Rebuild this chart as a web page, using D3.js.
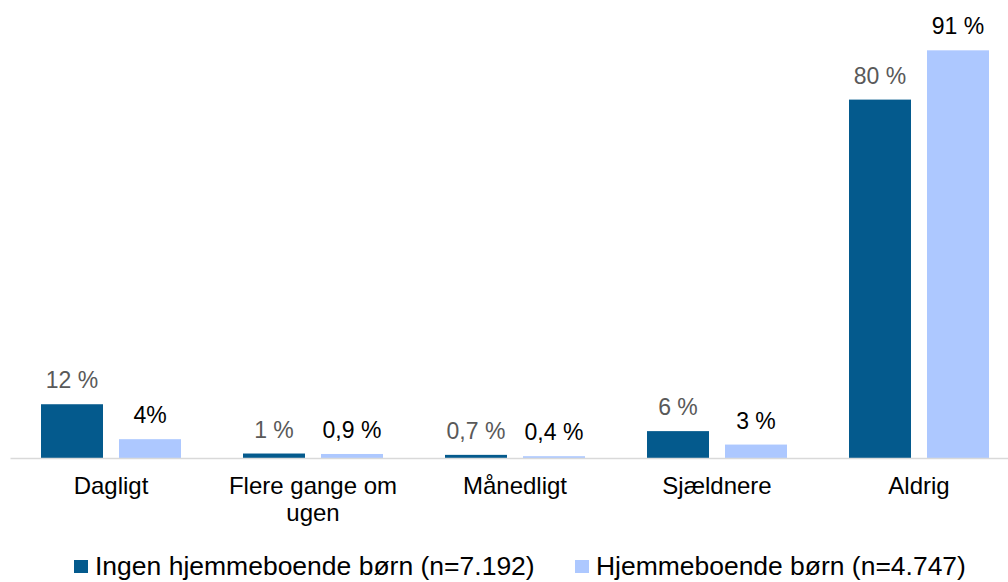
<!DOCTYPE html>
<html>
<head>
<meta charset="utf-8">
<script src="https://cdn.jsdelivr.net/npm/d3@7"></script>
<style>
  html, body { margin: 0; padding: 0; background: #fff; }
  svg { display: block; font-family: "Liberation Sans", Arial, sans-serif; }
</style>
</head>
<body>
<svg id="chart" width="1008" height="582"></svg>
<script>
const categories = ["Dagligt", "Flere gange om ugen", "Månedligt", "Sjældnere", "Aldrig"];
const categoryLines = [["Dagligt"], ["Flere gange om", "ugen"], ["Månedligt"], ["Sjældnere"], ["Aldrig"]];
const seriesNames = ["Ingen hjemmeboende børn (n=7.192)", "Hjemmeboende børn (n=4.747)"];
const ingenValues = [12, 1, 0.7, 6, 80];
const hjemmeValues = [4.2, 0.9, 0.4, 3, 91];
const ingenLabels = ["12 %", "1 %", "0,7 %", "6 %", "80 %"];
const hjemmeLabels = ["4%", "0,9 %", "0,4 %", "3 %", "91 %"];
const colors = ["#045A8D", "#ADC8FF"];
const labelColors = ["#595959", "#000000"];

const svg = d3.select("#chart");
const baseY = 458;

const x = d3.scaleBand().domain(categories).range([10, 1020]).paddingInner(0).paddingOuter(0);
const inner = d3.scaleBand().domain([0, 1]).range([31, 171]).paddingInner(16 / 78).paddingOuter(0);
const y = d3.scaleLinear().domain([0, 100]).range([baseY, 10]);

const series = [
  { values: ingenValues, labels: ingenLabels },
  { values: hjemmeValues, labels: hjemmeLabels }
];

// bars
series.forEach((s, si) => {
  const g = svg.append("g");
  g.selectAll("rect").data(categories).join("rect")
    .attr("x", c => x(c) + inner(si))
    .attr("width", inner.bandwidth())
    .attr("y", (c, i) => y(s.values[i]))
    .attr("height", (c, i) => baseY - y(s.values[i]))
    .attr("fill", colors[si]);
  g.selectAll("text").data(categories).join("text")
    .attr("x", c => x(c) + inner(si) + inner.bandwidth() / 2)
    .attr("y", (c, i) => y(s.values[i]) - 16)
    .attr("text-anchor", "middle")
    .attr("font-size", 23)
    .attr("fill", labelColors[si])
    .text((c, i) => s.labels[i]);
});

// axis line
const axis = svg.append("g").attr("transform", `translate(0,${baseY})`)
  .call(d3.axisBottom(x).tickSize(0).tickFormat(""));
axis.select(".domain").attr("stroke", "#d9d9d9").attr("stroke-width", 1.5);

// category labels
categories.forEach((c, i) => {
  const t = svg.append("text")
    .attr("x", x(c) + x.bandwidth() / 2)
    .attr("y", 494)
    .attr("text-anchor", "middle")
    .attr("font-size", 24)
    .attr("fill", "#000");
  categoryLines[i].forEach((line, li) => {
    t.append("tspan").attr("x", x(c) + x.bandwidth() / 2).attr("dy", li === 0 ? 0 : 27).text(line);
  });
});

// legend
const legendX = [74, 575];
const legendTextLen = [440, 370];
seriesNames.forEach((n, si) => {
  svg.append("rect").attr("x", legendX[si]).attr("y", 560).attr("width", 14).attr("height", 13).attr("fill", colors[si]);
  const t = svg.append("text").attr("x", 0).attr("y", 0)
    .attr("font-size", 25).attr("fill", "#000")
    .text(n);
  const w = t.node().getComputedTextLength();
  const sx = legendTextLen[si] / w;
  t.attr("transform", `translate(${legendX[si] + 21},575) scale(${sx},1)`);
});
</script>
</body>
</html>
